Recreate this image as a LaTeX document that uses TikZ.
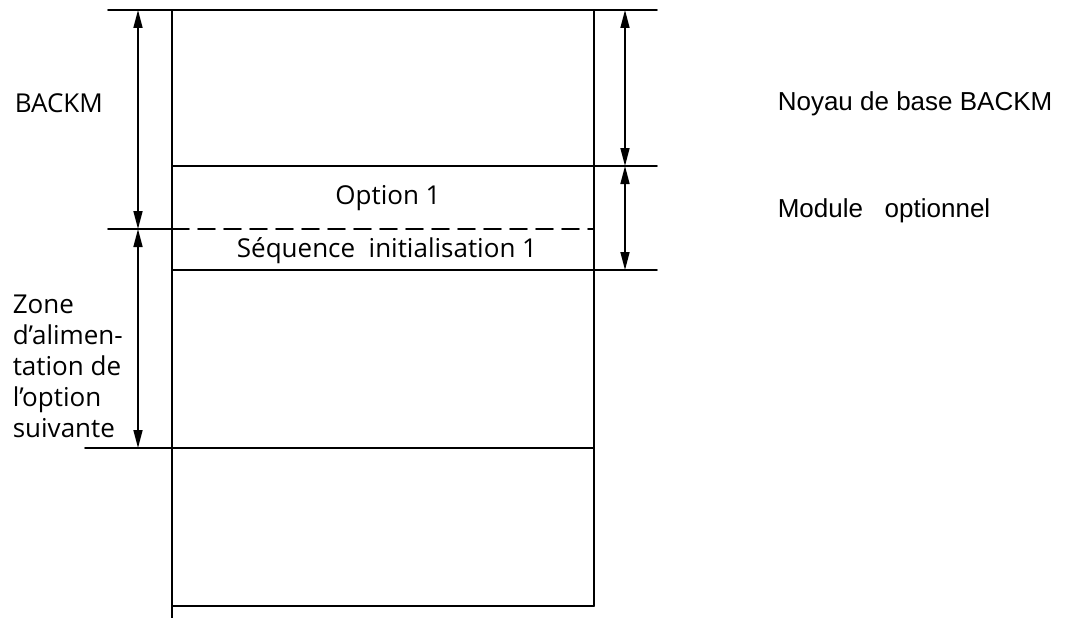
\documentclass[tikz,border=0pt]{standalone}
\usepackage{fontspec}
\setmainfont{Open Sans}
\newfontfamily\arialfont{Liberation Sans}
\usetikzlibrary{arrows.meta}
\begin{document}
\begin{tikzpicture}[x=1pt, y=-1pt, line cap=round, line join=round, >={Triangle[length=18pt,width=9pt]}, line width=1.6pt, font=\fontsize{26}{31}\selectfont]
	\useasboundingbox (0,0) rectangle (1065,618);
	% colonnes de la memoire
	\draw (172,10) coordinate (tl) -- (172,618) coordinate (bl);
	\draw (594,10) coordinate (tr) -- (594,606) coordinate (br);
	% separations
	\draw (108,10) coordinate (a0) -- (657,10) coordinate (b0);
	\draw (172,166) coordinate (a1) -- (657,166) coordinate (b1);
	\draw (108,229) coordinate (a2) -- (172,229) coordinate (c2);
	\draw[dash pattern=on 17pt off 9pt] (c2) -- (594,229) coordinate (b2);
	\draw (172,270) coordinate (a3) -- (657,270) coordinate (b3);
	\draw (85,448) coordinate (a4) -- (594,448) coordinate (b4);
	\draw (172,606) coordinate (a5) -- (br);
	% cotes
	\draw[<->] (138,10) coordinate (g0) -- (138,229) coordinate (g1);
	\draw[<->] (g1) -- (138,448) coordinate (g2);
	\draw[<->] (625,10) coordinate (d0) -- (625,166) coordinate (d1);
	\draw[<->] (d1) -- (625,270) coordinate (d2);
	% textes
	\node[anchor=base west, inner sep=0pt] (backm) at (14,112) {BACKM};
	\node (opt) at (388,198) {Option 1};
	\node (seq) at (387,251) {Séquence\ \ initialisation 1};
	\node[anchor=base west, align=left, inner sep=0pt] (zone) at (12,437) {Zone\\d'alimen-\\tation de\\l'option\\suivante};
	\node[anchor=west, inner sep=0pt, font=\arialfont\fontsize{26}{30}\selectfont] (noyau) at (777,104) {Noyau de base BACKM};
	\node[anchor=west, inner sep=0pt, font=\arialfont\fontsize{26}{30}\selectfont] (module) at (777,211) {Module\ \ \ optionnel};
\end{tikzpicture}
\end{document}
